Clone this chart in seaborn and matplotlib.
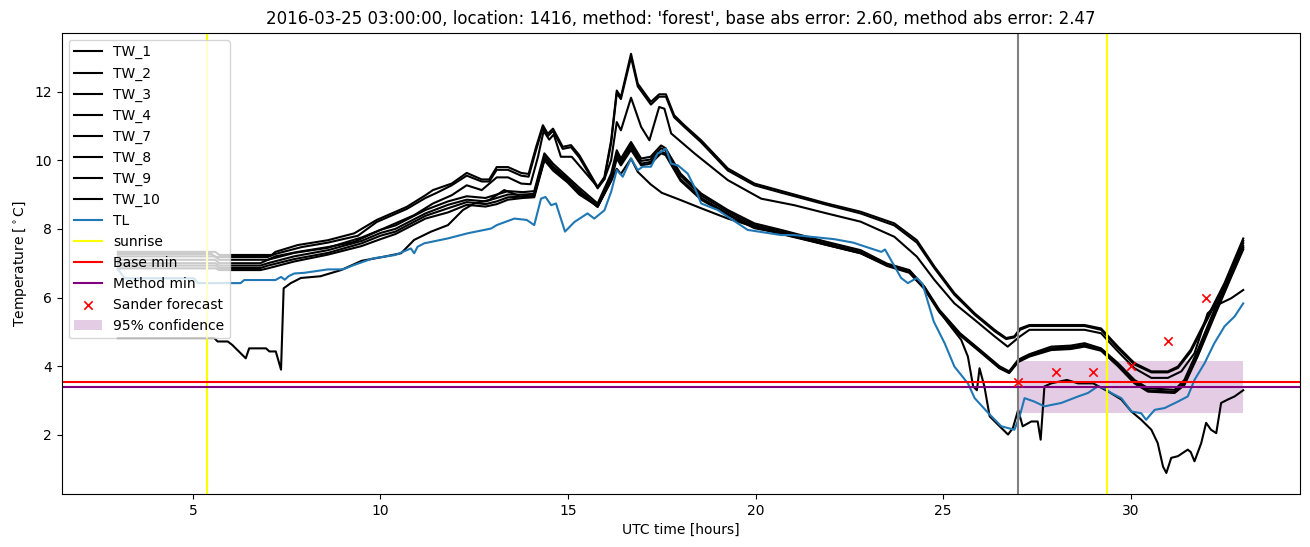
import numpy as np
import pandas as pd
import matplotlib
matplotlib.use("Agg")
import matplotlib.pyplot as plt
import seaborn as sns

# ==============================================================================
# DATA
# ==============================================================================
TITLE = ("2016-03-25 03:00:00, location: 1416, method: 'forest', "
         "base abs error: 2.60, method abs error: 2.47")

tw1_t = [3.0, 5.6, 5.7, 7.1, 7.2, 7.8, 8.6, 9.3, 9.9, 10.7, 11.2, 11.4, 11.9, 12.3, 12.7, 12.9,
         13.1, 13.4, 13.75, 13.95, 14.15, 14.33, 14.46, 14.6, 14.86, 15.08, 15.3, 15.79, 15.97,
         16.15, 16.3, 16.41, 16.68, 16.86, 17.21, 17.43, 17.61, 17.83, 18.1, 18.55, 19.26, 19.97,
         20.7, 21.9, 22.8, 23.7, 24.3, 24.77, 25.3, 25.84, 26.37, 26.68, 26.9, 27.05, 27.3, 27.88,
         28.77, 29.21, 29.66, 30.1, 30.55, 30.99, 31.26, 31.6, 32.05, 32.5, 33.0]
tw1_v = [7.33, 7.33, 7.24, 7.24, 7.33, 7.53, 7.67, 7.87, 8.26, 8.64, 8.98, 9.13, 9.32, 9.63, 9.44, 9.44,
         9.8, 9.8, 9.63, 9.6, 10.39, 11.02, 10.77, 10.92, 10.39, 10.44, 10.15, 9.22, 9.51,
         10.58, 12.03, 11.84, 13.1, 12.23, 11.7, 11.92, 11.92, 11.31, 11.02, 10.58, 9.76, 9.32,
         9.1, 8.74, 8.5, 8.16, 7.67, 6.9, 6.13, 5.54, 5.06, 4.82, 4.87, 5.1, 5.2, 5.2,
         5.2, 5.1, 4.57, 4.09, 3.85, 3.85, 3.99, 4.48, 5.45, 6.42, 7.72]

tw2_t = [3.0, 5.5, 5.6, 7.0, 7.2, 7.9, 8.6, 9.4, 9.9, 10.7, 11.2, 11.5, 11.9, 12.3, 12.7, 12.9,
         13.1, 13.4, 13.75, 13.95, 14.15, 14.33, 14.46, 14.6, 14.86, 15.08, 15.3, 15.79, 15.97,
         16.15, 16.3, 16.41, 16.68, 16.86, 17.21, 17.43, 17.61, 17.83, 18.1, 18.55, 19.26, 19.97,
         20.7, 21.9, 22.8, 23.7, 24.3, 24.77, 25.3, 25.84, 26.37, 26.68, 26.9, 27.05, 27.3, 27.88,
         28.77, 29.21, 29.66, 30.1, 30.55, 30.99, 31.26, 31.6, 32.05, 32.5, 33.0]
tw2_v = [7.27, 7.27, 7.18, 7.18, 7.27, 7.47, 7.6, 7.8, 8.2, 8.58, 8.9, 9.05, 9.27, 9.55, 9.38, 9.38,
         9.72, 9.72, 9.55, 9.52, 10.3, 10.95, 10.7, 10.85, 10.33, 10.38, 10.08, 9.18, 9.45,
         10.5, 11.95, 11.78, 13.0, 12.15, 11.62, 11.85, 11.85, 11.25, 10.97, 10.52, 9.7, 9.27,
         9.05, 8.7, 8.45, 8.1, 7.6, 6.85, 6.08, 5.5, 5.02, 4.79, 4.84, 5.06, 5.17, 5.17,
         5.17, 5.06, 4.52, 4.05, 3.82, 3.82, 3.95, 4.42, 5.38, 6.35, 7.65]

tw3_t = [3.0, 5.6, 5.7, 7.0, 7.2, 7.8, 8.6, 9.3, 10.0, 10.9, 11.4, 11.9, 12.3, 12.7, 13.1, 13.4,
         13.75, 14.0, 14.2, 14.35, 14.5, 14.62, 14.81, 15.1, 15.79, 15.97, 16.15, 16.3, 16.41,
         16.68, 16.95, 17.17, 17.43, 17.57, 17.75, 18.37, 19.26, 20.15, 21.03, 21.9, 22.8, 23.7,
         24.3, 24.77, 25.3, 25.84, 26.37, 26.72, 27.05, 27.3, 28.77, 29.21, 29.66, 30.1, 30.55,
         30.99, 31.35, 31.7, 32.05, 32.3, 32.68, 33.0]
tw3_v = [7.2, 7.2, 7.1, 7.1, 7.2, 7.33, 7.47, 7.62, 7.97, 8.4, 8.74, 8.98, 9.27, 9.13, 9.5, 9.5,
         9.32, 9.3, 10.1, 10.85, 10.6, 10.75, 10.1, 10.1, 9.22, 9.45, 10.0, 11.11, 10.87,
         11.82, 10.97, 10.58, 11.55, 11.5, 10.78, 10.2, 9.42, 8.88, 8.69, 8.45, 8.21, 7.77,
         7.19, 6.51, 5.83, 5.35, 4.87, 4.57, 4.87, 5.06, 5.06, 4.96, 4.43, 3.94, 3.66,
         3.66, 3.85, 4.38, 5.54, 5.78, 5.98, 6.22]

c_t = [3.0, 5.6, 5.7, 6.8, 7.0, 7.7, 8.6, 9.5, 10.0, 10.4, 11.2, 11.8, 12.3, 12.8, 13.1, 13.4,
       13.8, 14.1, 14.37, 14.6, 14.99, 15.3, 15.79, 16.15, 16.3, 16.41, 16.68, 16.95, 17.2, 17.48,
       17.6, 18.0, 18.55, 19.26, 19.97, 20.68, 21.03, 21.9, 22.8, 23.5, 24.1, 24.5, 24.9, 25.45,
       25.98, 26.5, 26.76, 27.0, 27.3, 27.88, 28.4, 28.77, 29.21, 29.66, 30.1, 30.46, 31.17,
       31.43, 31.79, 32.23, 32.68, 33.0]
tw4_v = [7.1, 7.1, 7.0, 7.0, 7.1, 7.3, 7.45, 7.75, 7.97, 8.1, 8.55, 8.8, 8.95, 8.9, 9.0, 9.1,
         9.07, 9.1, 10.2, 9.9, 9.51, 9.2, 8.74, 9.61, 10.29, 10.05, 10.53, 10.05, 10.1, 10.43,
         10.35, 9.61, 9.03, 8.55, 8.16, 7.97, 7.87, 7.62, 7.38, 6.99, 6.8, 6.32, 5.64, 4.96,
         4.48, 4.0, 3.85, 4.19, 4.35, 4.57, 4.6, 4.67, 4.52, 4.09, 3.6, 3.36, 3.31,
         3.6, 4.48, 5.64, 6.8, 7.58]
tw7_v = [7.0, 7.0, 6.93, 6.93, 7.0, 7.2, 7.38, 7.65, 7.88, 8.0, 8.45, 8.7, 8.85, 8.8, 8.9, 9.0,
         9.0, 9.02, 10.12, 9.82, 9.45, 9.12, 8.68, 9.52, 10.2, 9.98, 10.45, 9.98, 10.02, 10.35,
         10.28, 9.55, 8.97, 8.5, 8.11, 7.93, 7.82, 7.57, 7.33, 6.95, 6.76, 6.28, 5.6, 4.93,
         4.45, 3.97, 3.82, 4.15, 4.32, 4.52, 4.55, 4.62, 4.48, 4.05, 3.55, 3.3, 3.25,
         3.52, 4.38, 5.55, 6.7, 7.5]
tw8_v = [6.93, 6.93, 6.86, 6.86, 6.93, 7.12, 7.3, 7.58, 7.8, 7.92, 8.38, 8.6, 8.78, 8.72, 8.8, 8.92,
         8.94, 8.96, 10.05, 9.75, 9.4, 9.05, 8.64, 9.45, 10.12, 9.9, 10.38, 9.9, 9.95, 10.25,
         10.2, 9.45, 8.9, 8.44, 8.06, 7.9, 7.78, 7.53, 7.29, 6.92, 6.72, 6.25, 5.57, 4.9,
         4.42, 3.94, 3.8, 4.12, 4.28, 4.47, 4.5, 4.57, 4.45, 4.0, 3.5, 3.26, 3.22,
         3.45, 4.3, 5.45, 6.6, 7.4]
tw9_v = [6.85, 6.85, 6.8, 6.8, 6.85, 7.05, 7.25, 7.5, 7.7, 7.85, 8.3, 8.48, 8.7, 8.65, 8.72, 8.85,
         8.9, 8.92, 10.0, 9.7, 9.35, 9.0, 8.66, 9.4, 10.05, 9.85, 10.3, 9.85, 9.9, 10.2,
         10.15, 9.4, 8.85, 8.4, 8.02, 7.87, 7.77, 7.55, 7.3, 6.95, 6.74, 6.27, 5.6, 4.94,
         4.45, 3.96, 3.83, 4.15, 4.3, 4.5, 4.55, 4.6, 4.48, 4.03, 3.53, 3.28, 3.24,
         3.48, 4.35, 5.5, 6.65, 7.45]

tw10_t = [3.0, 5.57, 5.66, 5.93, 6.05, 6.41, 6.5, 6.95, 7.04, 7.21, 7.35, 7.42, 7.61, 7.88, 8.4,
          8.95, 9.5, 10.1, 10.55, 10.9, 11.35, 11.8, 12.2, 12.5, 12.9, 13.3, 13.75, 14.1, 14.37,
          14.6, 15.0, 15.79, 16.15, 16.3, 16.41, 16.68, 16.86, 17.2, 17.5, 18.0, 18.55, 19.26,
          19.97, 20.68, 21.9, 22.8, 23.5, 24.1, 24.5, 24.9, 25.1, 25.48, 25.66, 25.8, 25.9, 25.97,
          26.1, 26.24, 26.46, 26.73, 26.86, 27.0, 27.12, 27.35, 27.52, 27.6, 27.7, 27.88, 28.3,
          28.6, 29.0, 29.39, 29.75, 30.02, 30.28, 30.55, 30.72, 30.86, 30.95, 31.08, 31.26,
          31.52, 31.6, 31.7, 31.88, 32.01, 32.14, 32.28, 32.41, 32.59, 32.77, 33.0]
tw10_v = [4.82, 4.82, 4.72, 4.72, 4.62, 4.23, 4.52, 4.52, 4.43, 4.43, 3.9, 6.27, 6.42, 6.57, 6.62,
          6.8, 7.07, 7.19, 7.29, 7.68, 7.92, 8.11, 8.55, 8.74, 8.84, 9.13, 8.94, 9.03, 10.0,
          9.8, 9.4, 8.64, 9.4, 9.75, 9.6, 10.05, 9.66, 9.3, 9.05, 8.84, 8.6, 8.3,
          8.06, 7.85, 7.53, 7.29, 6.95, 6.78, 6.3, 5.6, 5.3, 4.77, 4.28, 3.41, 3.3, 3.94,
          3.41, 2.54, 2.3, 2.01, 2.2, 2.73, 2.25, 2.39, 2.39, 1.86, 3.41, 3.5, 3.6,
          3.5, 3.5, 3.27, 3.03, 2.68, 2.44, 2.15, 1.76, 1.08, 0.89, 1.33, 1.38,
          1.57, 1.5, 1.23, 1.76, 2.35, 2.15, 2.05, 2.93, 3.03, 3.12, 3.3]

tl_t = [3.0, 3.08, 3.17, 5.03, 5.13, 6.27, 6.37, 7.2, 7.35, 7.45, 7.55, 7.7, 7.97, 8.6, 9.0, 9.3,
        9.8, 10.4, 10.81, 10.9, 10.99, 11.17, 11.79, 12.32, 12.95, 13.1, 13.57, 13.9, 14.1, 14.28,
        14.4, 14.55, 14.68, 14.92, 15.17, 15.52, 15.7, 15.97, 16.15, 16.3, 16.46, 16.68, 16.86,
        16.99, 17.21, 17.39, 17.48, 17.61, 17.75, 17.93, 18.19, 18.37, 18.55, 18.99, 19.79,
        20.68, 21.03, 22.1, 22.6, 23.35, 23.45, 23.88, 24.06, 24.3, 24.45, 24.75, 25.04, 25.3,
        25.66, 25.84, 26.2, 26.55, 26.9, 27.04, 27.17, 27.43, 27.7, 28.15, 28.6, 28.86, 29.12,
        29.3, 29.48, 29.75, 30.02, 30.28, 30.41, 30.64, 30.9, 31.26, 31.52, 31.7, 31.97, 32.23,
        32.5, 32.77, 33.0]
tl_v = [6.82, 6.71, 6.56, 6.56, 6.42, 6.42, 6.51, 6.51, 6.6, 6.52, 6.62, 6.7, 6.72, 6.82, 6.82, 6.95,
        7.14, 7.24, 7.43, 7.29, 7.48, 7.58, 7.72, 7.87, 8.01, 8.11, 8.3, 8.26, 8.11, 8.88,
        8.93, 8.69, 8.74, 7.92, 8.2, 8.45, 8.3, 8.54, 9.08, 9.71, 9.52, 10.05, 9.71,
        9.81, 9.81, 10.2, 10.24, 10.34, 9.9, 9.85, 9.61, 9.22, 8.74, 8.55, 7.97,
        7.82, 7.82, 7.7, 7.6, 7.33, 7.4, 6.57, 6.42, 6.57, 6.4, 5.3, 4.67, 3.99,
        3.5, 3.07, 2.64, 2.25, 2.15, 2.54, 3.07, 2.97, 2.83, 2.93, 3.12, 3.22, 3.41,
        3.36, 3.22, 3.07, 2.68, 2.63, 2.44, 2.73, 2.78, 2.97, 3.12, 3.6, 4.09, 4.67,
        5.16, 5.45, 5.83]

sunrise_t = [5.37, 29.38]
forecast_time = 27.0
base_min = 3.53
method_min = 3.38

sander_t = [27, 28, 29, 30, 31, 32]
sander_v = [3.53, 3.84, 3.84, 4.0, 4.74, 6.0]

conf_t = [27.0, 33.0]
conf_lo = [2.63, 2.63]
conf_hi = [4.16, 4.16]

tw_series = {
    "TW_1": (tw1_t, tw1_v),
    "TW_2": (tw2_t, tw2_v),
    "TW_3": (tw3_t, tw3_v),
    "TW_4": (c_t, tw4_v),
    "TW_7": (c_t, tw7_v),
    "TW_8": (c_t, tw8_v),
    "TW_9": (c_t, tw9_v),
    "TW_10": (tw10_t, tw10_v),
}

# ==============================================================================
# PLOT
# ==============================================================================
fig, ax = plt.subplots(figsize=(13.1, 5.47), dpi=100)

for name, (ts, vs) in tw_series.items():
    df = pd.DataFrame({"t": ts, "v": vs})
    sns.lineplot(data=df, x="t", y="v", ax=ax, color="black", label=name,
                 estimator=None, sort=False, linewidth=1.5)

sns.lineplot(x=tl_t, y=tl_v, ax=ax, color="#1f77b4", label="TL",
             estimator=None, sort=False, linewidth=1.5)

ax.axvline(sunrise_t[0], color="yellow", label="sunrise")
ax.axvline(sunrise_t[1], color="yellow")
ax.axvline(forecast_time, color="gray")
ax.axhline(base_min, color="red", label="Base min")
ax.axhline(method_min, color="purple", label="Method min")

sns.scatterplot(x=sander_t, y=sander_v, ax=ax, marker="x", color="red", s=36,
                linewidth=1.2, label="Sander forecast", zorder=3)
ax.fill_between(conf_t, conf_lo, conf_hi, color="purple", alpha=0.2,
                linewidth=0, label="95% confidence")

ax.set_title(TITLE)
ax.set_xlabel("UTC time [hours]")
ax.set_ylabel("Temperature [$^\\circ$C]")
ax.legend(loc="upper left")

plt.subplots_adjust(left=0.047, right=0.992, bottom=0.097, top=0.94)
plt.savefig("out.png", dpi=100)
